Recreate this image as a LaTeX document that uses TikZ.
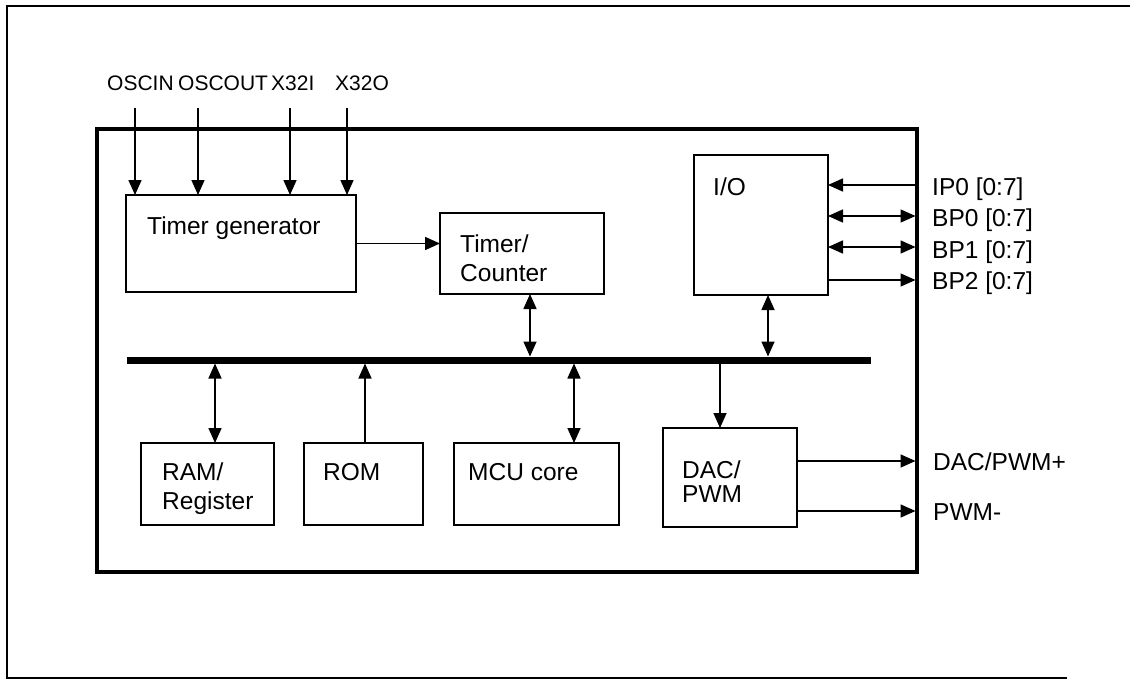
\documentclass[tikz,border=0pt]{standalone}
\usepackage{fontspec}
\setmainfont{Liberation Sans}
\usetikzlibrary{arrows.meta}
\begin{document}
\begin{tikzpicture}[x=1pt,y=-1pt,
  box/.style={draw, line width=1.4pt, anchor=north west, inner sep=0pt, outer sep=0pt},
  txt/.style={anchor=base west, inner sep=0pt, font=\fontsize{24.5}{28}\selectfont},
  toplbl/.style={anchor=base west, inner sep=0pt, font=\fontsize{21}{24}\selectfont},
  sig/.style={line width=1.6pt},
  arr/.style={sig, -{Triangle[length=15pt,width=13pt]}},
  darr/.style={sig, {Triangle[length=15pt,width=13pt]}-{Triangle[length=15pt,width=13pt]}}]
\useasboundingbox (0,0) rectangle (1138,682);
% outer frame
\draw[line width=1.3pt] (1130,6) -- (7,6) -- (7,678) -- (1067,678);
% main box
\node[draw, line width=4pt, anchor=north west, minimum width=820pt, minimum height=443pt, inner sep=0pt, outer sep=0pt] (main) at (97,129) {};
% blocks
\node[box, minimum width=230pt, minimum height=97pt] (tg) at (126,195) {};
\node[box, minimum width=164pt, minimum height=81pt] (tc) at (440,213) {};
\node[box, minimum width=134pt, minimum height=140pt] (io) at (694,155) {};
\node[box, minimum width=133pt, minimum height=82pt] (ram) at (141,443) {};
\node[box, minimum width=119pt, minimum height=82pt] (rom) at (304,443) {};
\node[box, minimum width=165pt, minimum height=82pt] (mcu) at (454,443) {};
\node[box, minimum width=134pt, minimum height=99pt] (dac) at (663,428) {};
% block texts
\node[txt] (tgt) at (147,234) {Timer generator};
\node[txt] (tct1) at (460,252) {Timer/};
\node[txt] (tct2) at (460,281) {Counter};
\node[txt] (iot) at (713,196) {I/O};
\node[txt] (ramt1) at (162,480) {RAM/};
\node[txt] (ramt2) at (162,509) {Register};
\node[txt] (romt) at (323,480) {ROM};
\node[txt] (mcutx) at (468,480) {MCU core};
\node[txt] (dact1) at (682,478) {DAC/};
\node[txt] (dact2) at (682,502) {PWM};
% bus
\coordinate (busL) at (127,360);
\coordinate (busR) at (871,360);
\draw[line width=7pt] (busL) -- (busR);
% clock inputs
\node[toplbl] (l1) at (107,90.5) {OSCIN};
\node[toplbl] (l2) at (178,90.5) {OSCOUT};
\node[toplbl] (l3) at (271,90.5) {X32I};
\node[toplbl] (l4) at (335,90.5) {X32O};
\coordinate (i1) at (135,108);
\coordinate (i2) at (198,108);
\coordinate (i3) at (290,108);
\coordinate (i4) at (347,108);
\foreach \c in {i1,i2,i3,i4} \draw[arr] (\c) -- (\c |- tg.north);
% timer generator -> timer/counter
\draw[arr] (tg.east) -- (tg.east -| tc.west);
% bus connections
\coordinate (tcb) at ([xshift=8pt]tc.south);
\draw[darr, shorten >=3.5pt] (tcb) -- (tcb |- busL);
\coordinate (iob) at ([xshift=7pt]io.south);
\draw[darr, shorten >=3.5pt] (iob) -- (iob |- busL);
\coordinate (ramc) at ([xshift=7.5pt]ram.north);
\draw[darr, shorten >=3.5pt] (ramc) -- (ramc |- busL);
\coordinate (romc) at ([xshift=1.5pt]rom.north);
\draw[arr, shorten >=3.5pt] (romc) -- (romc |- busL);
\coordinate (mcuc) at ([xshift=37.5pt]mcu.north);
\draw[darr, shorten >=3.5pt] (mcuc) -- (mcuc |- busL);
\coordinate (dacc) at ([xshift=-10pt]dac.north);
\draw[arr, shorten <=3.5pt] (dacc |- busL) -- (dacc);
% I/O ports
\coordinate (p1) at ([yshift=-30pt]io.north east);
\coordinate (p2) at ([yshift=-61pt]io.north east);
\coordinate (p3) at ([yshift=-92pt]io.north east);
\coordinate (p4) at ([yshift=-125pt]io.north east);
\draw[arr] (p1 -| main.east) -- (p1);
\draw[darr, shorten >=1.5pt] (p2) -- (p2 -| main.east);
\draw[darr, shorten >=1.5pt] (p3) -- (p3 -| main.east);
\draw[arr, shorten >=1.5pt] (p4) -- (p4 -| main.east);
\node[txt] (lip0) at (932,195) {IP0 [0:7]};
\node[txt] (lbp0) at (932,226) {BP0 [0:7]};
\node[txt] (lbp1) at (932,258) {BP1 [0:7]};
\node[txt] (lbp2) at (932,289) {BP2 [0:7]};
% DAC outputs
\coordinate (q1) at ([yshift=-33pt]dac.north east);
\coordinate (q2) at ([yshift=-83pt]dac.north east);
\draw[arr, shorten >=1.5pt] (q1) -- (q1 -| main.east);
\draw[arr, shorten >=1.5pt] (q2) -- (q2 -| main.east);
\node[txt] (ldac) at (933,470) {DAC/PWM+};
\node[txt] (lpwm) at (933,520) {PWM-};
\end{tikzpicture}
\end{document}
